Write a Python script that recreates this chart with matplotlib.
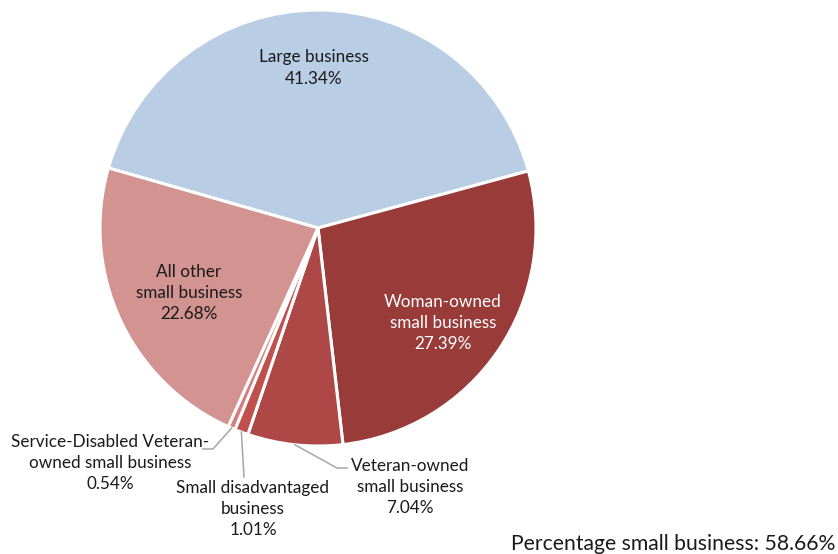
import numpy as np
import matplotlib.pyplot as plt

plt.rcParams['font.family'] = ['Lato', 'DejaVu Sans']

# data, clockwise from the large business slice
labels = ['Large business', 'Woman-owned\nsmall business', 'Veteran-owned\nsmall business',
          'Small disadvantaged\nbusiness', 'Service-Disabled Veteran-\nowned small business',
          'All other\nsmall business']
shares = [41.34, 27.39, 7.04, 1.01, 0.54, 22.68]
colors = ['#B9CDE5', '#983B39', '#AD4846', '#C0504D', '#D47D7B', '#D39391']
small_total = 58.66

W, H = 838, 554
fig = plt.figure(figsize=(W / 100, H / 100), dpi=100)

# pie centre (318, 228) px, radius 218 px
cx, cy, r = 318, 228, 218
ax = fig.add_axes([(cx - r) / W, 1 - (cy + r) / H, 2 * r / W, 2 * r / H])
start = 90 + shares[0] / 100 * 360 / 2 - 0.4
wedges, _ = ax.pie(shares, colors=colors, startangle=start, counterclock=False, radius=1,
                   wedgeprops=dict(edgecolor='white', linewidth=2.2))
ax.set_xlim(-1, 1)
ax.set_ylim(-1, 1)
ax.set_aspect('equal')
ax.axis('off')


def d(px, py):
    # pixel position -> data coords of pie axes
    return (px - cx) / r, (cy - py) / r


fs = 12.3
ls = 1.42
# inside labels
inside = {0: ((314, 68), '#1a1a1a'), 1: ((443, 323), 'white'), 5: ((189, 293), '#1a1a1a')}
for i, (pos, col) in inside.items():
    ax.text(*d(*pos), f'{labels[i]}\n{shares[i]:.2f}%', ha='center', va='center',
            fontsize=fs, color=col, linespacing=ls)

# outside labels with leader lines: label centre, elbow, line end
outside = {2: ((410, 487), (337, 468), (347, 468)),
           3: ((253, 509), (244, 455), (244, 477)),
           4: ((110, 463), (213, 449), (203, 449))}
for i, (pos, elbow, end) in outside.items():
    w = wedges[i]
    mid = np.deg2rad((w.theta1 + w.theta2) / 2)
    x0, y0 = np.cos(mid), np.sin(mid)
    ex, ey = d(*elbow)
    fx, fy = d(*end)
    if i == 3:
        ax.plot([x0, fx], [y0, fy], color='#A6A6A6', lw=1.1, clip_on=False)
    else:
        ax.plot([x0, ex, fx], [y0, ey, fy], color='#A6A6A6', lw=1.1, clip_on=False)
    ax.text(*d(*pos), f'{labels[i]}\n{shares[i]:.2f}%', ha='center', va='center',
            fontsize=fs, color='#1a1a1a', linespacing=ls)

fig.text(835 / W, 1 - 544 / H, f'Percentage small business: {small_total:.2f}%',
         ha='right', va='center', fontsize=15.2, color='#1a1a1a')

fig.savefig('out.png', dpi=100)
